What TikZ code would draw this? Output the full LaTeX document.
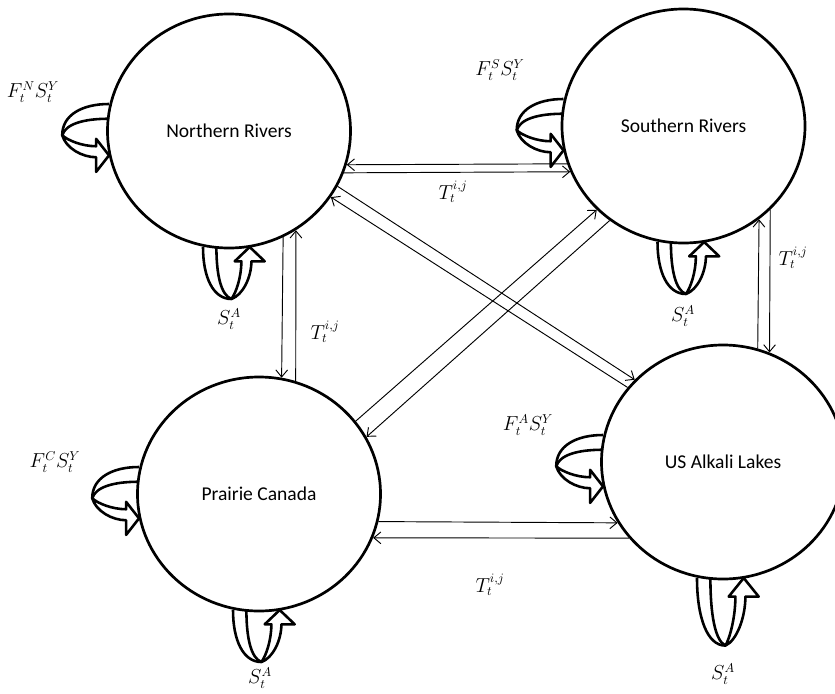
\documentclass[tikz,border=0pt]{standalone}
\usepackage{amsmath,amssymb}
\usepackage{fontspec}
\setmainfont{Carlito}
\usepackage{tikz}
\usetikzlibrary{calc,arrows.meta,shapes.geometric}
\tikzset{
  region/.style={draw, ellipse, line width=2.3pt, minimum width=7.29cm,
    minimum height=7.02cm, inner sep=0pt, font=\fontsize{16.7}{20}\selectfont},
  flow/.style={draw, line width=0.8pt, -{Straight Barb[length=6pt,width=10pt]}},
  loopline/.style={draw, line width=2.2pt, line join=round},
  lab/.style={font=\fontsize{16}{19}\selectfont, inner sep=0pt},
  selfloop/.pic={
    \draw[loopline] (0,0) .. controls (0,30) and (10,52) .. (28.4,52)
      .. controls (40,48) and (48.4,30) .. (48.4,14.3)
      -- (61.7,14.3) -- (46.7,0) -- (31.7,14.3) -- (38.4,14.3)
      .. controls (38.4,30) and (33,46) .. (28.4,52);
    \draw[loopline] (13.4,0) .. controls (13.4,28) and (18,48) .. (28.4,52);
  }
}

\begin{document}
\begin{tikzpicture}[x=0.03cm, y=-0.03cm]
  \useasboundingbox (0,0) rectangle (835,693);

  \node[region] (nr) at (229,131) {Northern Rivers};
  \node[region] (sr) at (683.5,126) {Southern Rivers};
  \node[region] (pc) at (259,494) {Prairie Canada};
  \node[region] (us) at (723,462) {US Alkali Lakes};

  % transfers between regions
  \draw[flow] (sr.198.8) -- (nr.-16.3);
  \draw[flow] (nr.-20.3) -- (sr.202.9);
  \draw[flow] (nr.-63.8) -- (pc.79.2);
  \draw[flow] (pc.72.6) -- (nr.-56.7);
  \draw[flow] (us.73.2) -- (sr.-51.7);
  \draw[flow] (sr.-44.9) -- (us.67.5);
  \draw[flow] (pc.-13.8) -- (us.210.5);
  \draw[flow] (us.219.4) -- (pc.-21.3);
  \draw[flow] (nr.-27.6) -- (us.137);
  \draw[flow] (us.142.1) -- (nr.-33.8);
  \draw[flow] (pc.37.4) -- (sr.224.5);
  \draw[flow] (sr.232.1) -- (pc.28.4);

  \node[lab] (tns) at (453,192) {$T_t^{i,j}$};
  \node[lab] (tnp) at (325,332) {$T_t^{i,j}$};
  \node[lab] (tsu) at (793,258) {$T_t^{i,j}$};
  \node[lab] (tpu) at (490,585) {$T_t^{i,j}$};

  % harvest (left) and survival (below) loops
  \pic[rotate=-90, xscale=1.1, yscale=0.9] at ($(nr.center)+(-120,-27)$) {selfloop};
  \pic[rotate=-90, xscale=1.1, yscale=0.9] at ($(sr.center)+(-120,-27)$) {selfloop};
  \pic[rotate=-90, xscale=1.1, yscale=0.9] at ($(pc.center)+(-120,-27)$) {selfloop};
  \pic[rotate=-90, xscale=1.1, yscale=0.9] at ($(us.center)+(-120,-27)$) {selfloop};
  \pic at ($(nr.center)+(-26,116)$) {selfloop};
  \pic at ($(sr.center)+(-26,116)$) {selfloop};
  \pic at ($(pc.center)+(-26,116)$) {selfloop};
  \pic[yscale=1.3] at ($(us.center)+(-26,116)$) {selfloop};

  \node[lab] (fn) at (33,92) {$F_t^N S_t^Y$};
  \node[lab] (fs) at (500,70) {$F_t^S S_t^Y$};
  \node[lab] (fc) at (55,462) {$F_t^C S_t^Y$};
  \node[lab] (fa) at (528,425) {$F_t^A S_t^Y$};
  \node[lab] (sn) at (229,319) {$S_t^A$};
  \node[lab] (ss) at (683,316) {$S_t^A$};
  \node[lab] (sc) at (260,678) {$S_t^A$};
  \node[lab] (sa) at (723,674) {$S_t^A$};
\end{tikzpicture}
\end{document}
